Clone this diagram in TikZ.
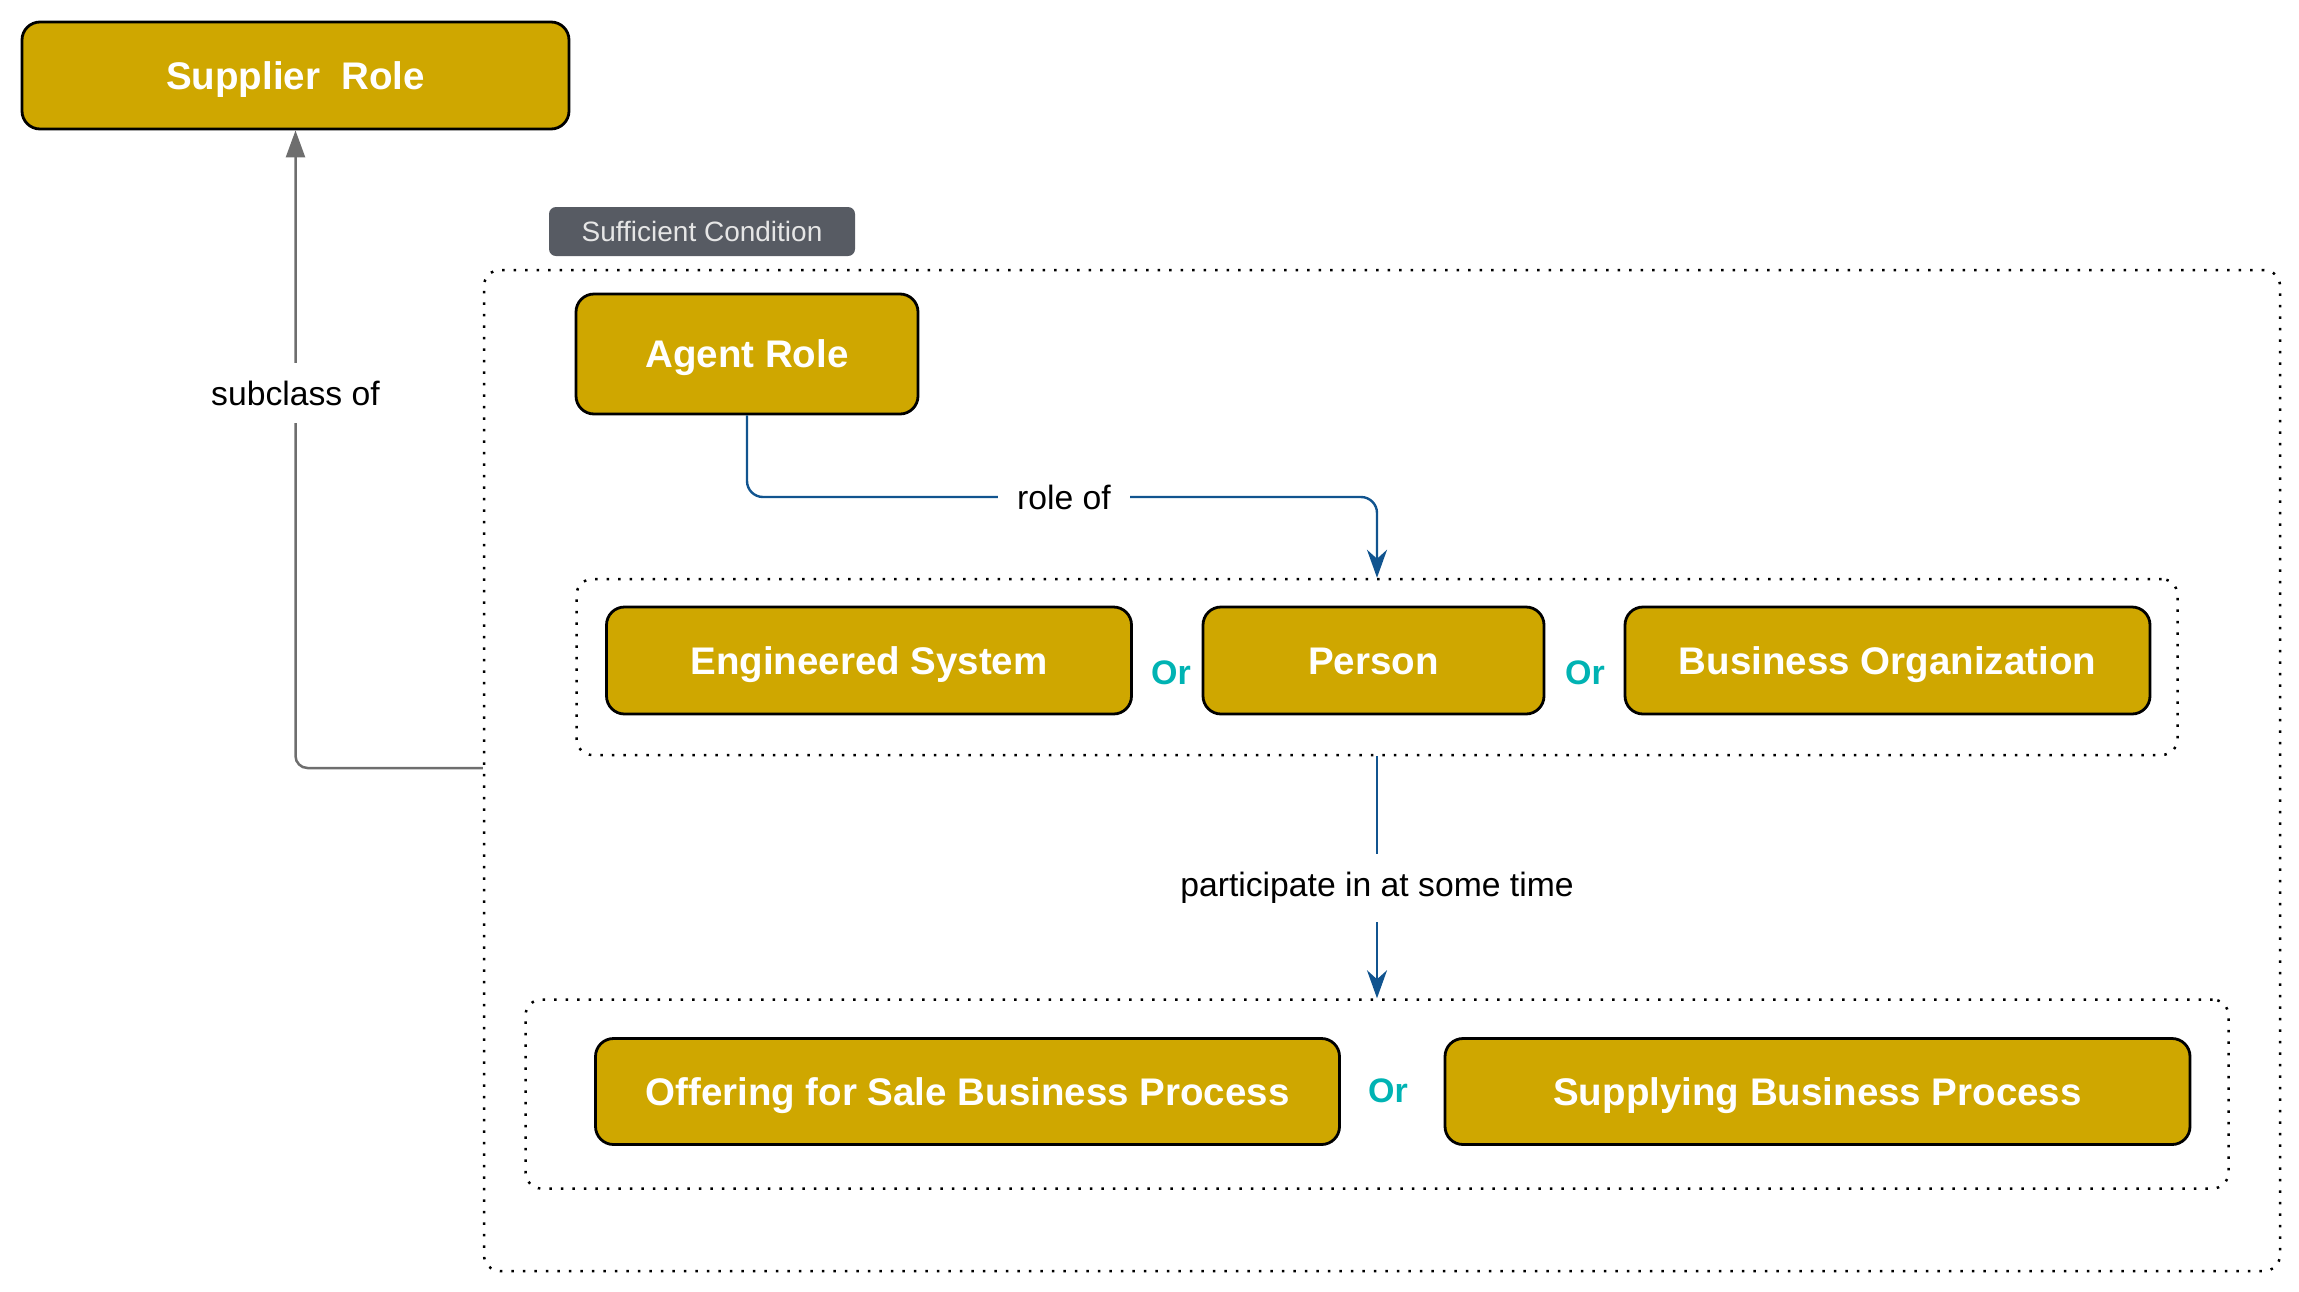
\documentclass[tikz,border=0pt]{standalone}
\usepackage{fontspec}
\setmainfont{Liberation Sans}
\usetikzlibrary{arrows.meta}
\definecolor{gold}{HTML}{CFA700}
\definecolor{edgeblue}{HTML}{11548F}
\definecolor{orteal}{HTML}{00B3B3}
\definecolor{tagfill}{HTML}{575B63}
\definecolor{taggray}{HTML}{E6E6E6}
\definecolor{subgray}{HTML}{6E6E6E}
\begin{document}
\begin{tikzpicture}[x=1pt,y=-1pt,
  cls/.style={draw=black, line width=2.8pt, fill=gold, rounded corners=18pt, text=white,
    font=\fontsize{38.5pt}{46pt}\selectfont\bfseries, inner sep=0pt, text height=27.6pt, text depth=0pt},
  grp/.style={draw=black, line width=2.5pt, dash pattern=on 2.5pt off 9pt, rounded corners=16pt, inner sep=0pt},
  ortxt/.style={text=orteal, font=\fontsize{34pt}{40pt}\selectfont\bfseries, inner sep=0pt, text height=24.3pt, text depth=0pt},
  lbl/.style={fill=white, text=black, font=\fontsize{33.7pt}{40pt}\selectfont, inner xsep=19pt, inner ysep=18pt},
  blueedge/.style={draw=edgeblue, line width=2.4pt, rounded corners=16pt, -{Stealth[length=28pt,width=20pt,inset=9pt]}},
  grayedge/.style={draw=subgray, line width=2.5pt, rounded corners=12pt, -{Triangle[length=27pt,width=19pt]}},
  tagbox/.style={fill=tagfill, rounded corners=7pt, text=taggray, font=\fontsize{28pt}{34pt}\selectfont,
    inner sep=0pt, text height=20pt, text depth=0pt}
]
\useasboundingbox (0,0) rectangle (2299,1291);

% groups
\node[grp, minimum width=1796pt, minimum height=1001pt] (outer) at (1382,770.5) {};
\node[grp, minimum width=1601pt, minimum height=176pt] (g1) at (1377,667) {};
\node[grp, minimum width=1703pt, minimum height=189pt] (g2) at (1377,1094) {};

% tag
\node[tagbox, minimum width=306pt, minimum height=49pt] (tag) at (702,231.5) {Sufficient Condition};

% classes
\node[cls, minimum width=547pt, minimum height=107pt] (supplier) at (295.5,75.5) {Supplier~~Role};
\node[cls, minimum width=342pt, minimum height=120pt] (agent) at (747,354) {Agent Role};
\node[cls, minimum width=525pt, minimum height=107pt] (eng) at (869,660.5) {Engineered System};
\node[cls, minimum width=341pt, minimum height=107pt] (person) at (1373.5,660.5) {Person};
\node[cls, minimum width=525pt, minimum height=107pt] (bizorg) at (1887.5,660.5) {Business Organization};
\node[cls, minimum width=744pt, minimum height=106pt] (offer) at (967.5,1091.5) {Offering for Sale Business Process};
\node[cls, minimum width=745pt, minimum height=106pt] (supply) at (1817.5,1091.5) {Supplying Business Process};

% Or labels
\node[ortxt] (or1) at (1171,672) {Or};
\node[ortxt] (or2) at (1585,672) {Or};
\node[ortxt] (or3) at (1388,1090) {Or};

% edges
\coordinate (rbend) at (1377,497);
\draw[blueedge] (agent.south) |- (rbend) -- (g1.north);
\node[lbl] (rolelbl) at (1064,497) {role of};

\draw[blueedge] (g1.south) -- (g2.north);
\node[lbl] (partlbl) at (1377,888) {participate in at some time};

\draw[grayedge] ([yshift=2.5pt]outer.west) -| (supplier.south);
\node[lbl] (sublbl) at (295.5,393) {subclass of};
\end{tikzpicture}
\end{document}
